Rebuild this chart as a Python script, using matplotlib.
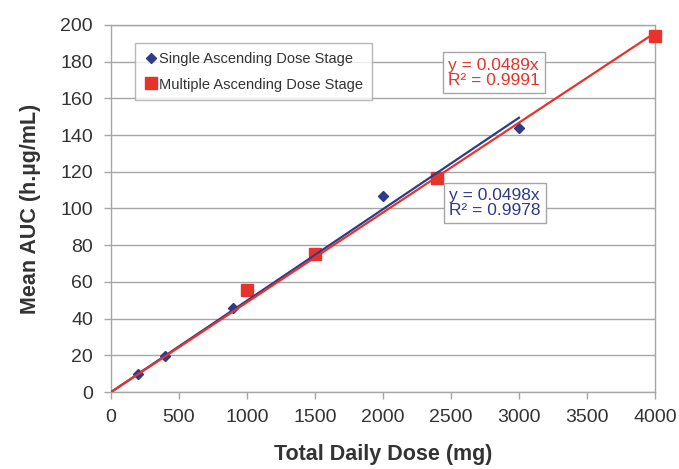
import numpy as np
import matplotlib.pyplot as plt

plt.rcParams['font.family'] = ['Liberation Sans', 'DejaVu Sans']

# ── Data ───────────────────────────────────────────────────────────────────
sad_dose = [200, 400, 900, 1500, 2000, 3000]
sad_auc = [10, 19.5, 46, 75, 107, 144]
mad_dose = [1000, 1500, 2400, 4000]
mad_auc = [55.6, 75.2, 116.6, 193.8]
sad_slope, sad_r2 = 0.0498, 0.9978
mad_slope, mad_r2 = 0.0489, 0.9991

BLUE = '#2e3a8c'
RED = '#e8322c'
GRID = '#a6a6a6'

fig = plt.figure(figsize=(6.79, 4.69), dpi=100)
ax = fig.add_axes([0.1635, 0.164, 0.801, 0.783])

ax.yaxis.grid(True, color=GRID, linewidth=1.0)
ax.set_axisbelow(True)

ax.plot(sad_dose, sad_auc, linestyle='none', marker='D', markersize=5.5,
        color=BLUE, label='Single Ascending Dose Stage', zorder=3,
        clip_on=False)
ax.plot(mad_dose, mad_auc, linestyle='none', marker='s', markersize=8,
        color=RED, label='Multiple Ascending Dose Stage', zorder=3,
        clip_on=False)

# trend lines through origin
xs = np.array([0, max(sad_dose)])
ax.plot(xs, sad_slope * xs, color=BLUE, linewidth=1.6, zorder=4)
xm = np.array([0, max(mad_dose)])
ax.plot(xm, mad_slope * xm, color=RED, linewidth=1.6, zorder=5)

ax.set_xlim(0, 4000)
ax.set_ylim(0, 200)
ax.set_xticks(np.arange(0, 4001, 500))
ax.set_yticks(np.arange(0, 201, 20))
ax.tick_params(axis='both', colors=GRID, labelcolor='#333333',
               labelsize=14, length=5, width=1)
ax.tick_params(axis='x', pad=7)
ax.tick_params(axis='y', pad=8)
for side in ['left', 'bottom', 'right', 'top']:
    ax.spines[side].set_color(GRID)
    ax.spines[side].set_linewidth(1.0)

ax.set_xlabel('Total Daily Dose (mg)', fontsize=15.5, fontweight='bold',
              color='#333333', labelpad=13)
ax.set_ylabel('Mean AUC (h.\u00b5g/mL)', fontsize=15.5, fontweight='bold',
              color='#333333', labelpad=14)

leg = ax.legend(loc='upper left', bbox_to_anchor=(0.03, 0.97), fontsize=10.5,
                frameon=True, fancybox=False, handletextpad=0.1,
                handlelength=1.0, borderpad=0.6, labelspacing=0.8,
                edgecolor=GRID)
leg.get_frame().set_linewidth(1.0)
for t in leg.get_texts():
    t.set_color('#333333')

ax.text(2480, 174, f'y = {mad_slope}x\nR\u00b2 = {mad_r2}', fontsize=12.5,
        color=RED, linespacing=1.0, va='center', ha='left', zorder=6,
        bbox=dict(boxstyle='square,pad=0.3', fc='white', ec=GRID, lw=1))
ax.text(2485, 103, f'y = {sad_slope}x\nR\u00b2 = {sad_r2}', fontsize=12.5,
        color=BLUE, linespacing=1.0, va='center', ha='left', zorder=6,
        bbox=dict(boxstyle='square,pad=0.3', fc='white', ec=GRID, lw=1))

fig.savefig('out.png', dpi=100)
